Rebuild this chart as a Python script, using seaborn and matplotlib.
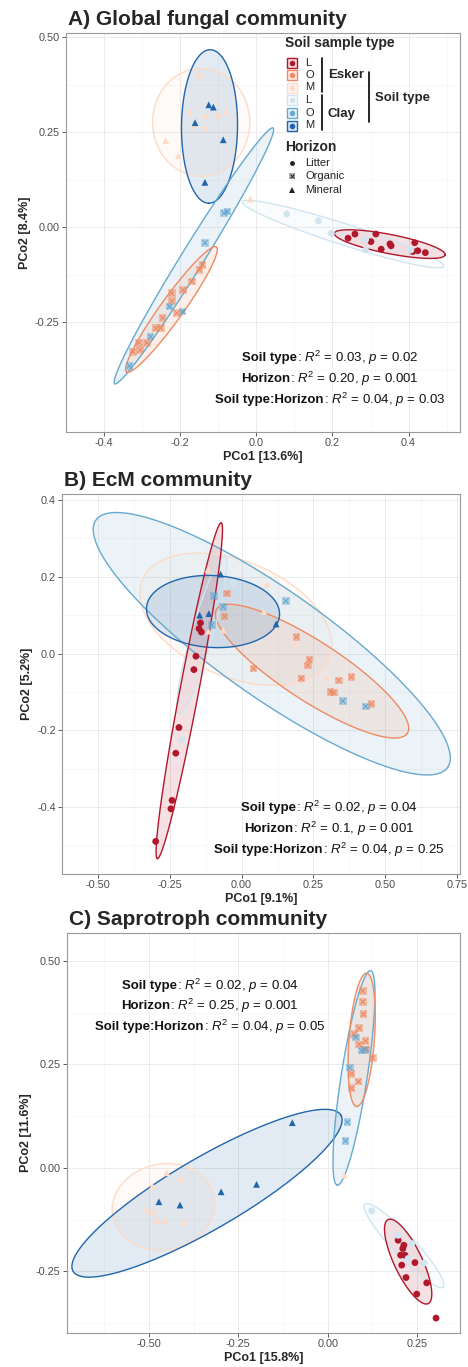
import numpy as np
import pandas as pd
import matplotlib
matplotlib.use("Agg")
import matplotlib.pyplot as plt
import seaborn as sns

sns.set_theme(style="white")
plt.rcParams['font.family'] = ['Liberation Sans', 'DejaVu Sans']
plt.rcParams['mathtext.fontset'] = 'custom'
plt.rcParams['mathtext.rm'] = 'Liberation Sans'
plt.rcParams['mathtext.it'] = 'Liberation Sans:italic'
plt.rcParams['mathtext.bf'] = 'Liberation Sans:bold'
plt.rcParams['axes.unicode_minus'] = False

# ---------------- data ----------------
groups = ["Esker L", "Esker O", "Esker M", "Clay L", "Clay O", "Clay M"]
horizon_of = {"L": "Litter", "O": "Organic", "M": "Mineral"}
palette = {"Esker L": "#B2182B", "Esker O": "#EF8A62", "Esker M": "#FDDBC7",
           "Clay L": "#D1E5F0", "Clay O": "#67A9CF", "Clay M": "#2166AC"}

# Panel A: Global fungal community
A_EL_x = [0.241, 0.259, 0.314, 0.301, 0.328, 0.351, 0.354, 0.416, 0.411, 0.424, 0.444]
A_EL_y = [-0.029, -0.018, -0.018, -0.038, -0.058, -0.044, -0.049, -0.041, -0.064, -0.062, -0.067]
A_EO_x = [-0.141, -0.149, -0.169, -0.193, -0.222, -0.222, -0.209, -0.246, -0.264, -0.251, -0.288, -0.308, -0.324, -0.305]
A_EO_y = [-0.099, -0.112, -0.143, -0.165, -0.174, -0.194, -0.226, -0.239, -0.266, -0.266, -0.304, -0.304, -0.328, -0.323]
A_EM_x = [-0.150, -0.175, -0.133, -0.103, -0.080, -0.163, -0.133, -0.238, -0.205, -0.016]
A_EM_y = [0.401, 0.304, 0.293, 0.296, 0.304, 0.271, 0.262, 0.228, 0.188, 0.074]
A_CL_x = [0.080, 0.163, 0.197, 0.287, 0.287, 0.406]
A_CL_y = [0.035, 0.017, -0.016, -0.060, -0.033, -0.060]
A_CO_x = [-0.085, -0.076, -0.135, -0.228, -0.194, -0.278, -0.333]
A_CO_y = [0.037, 0.041, -0.041, -0.209, -0.222, -0.288, -0.365]
A_CM_x = [-0.125, -0.113, -0.161, -0.087, -0.135]
A_CM_y = [0.322, 0.316, 0.275, 0.230, 0.118]
# ellipses: two ends of the long axis + width ratio
A_ell_group = ["Esker M", "Clay M", "Clay O", "Esker O", "Clay L", "Esker L"]
A_ell_x1 = [-0.145, -0.121, 0.044, -0.105, -0.037, 0.205]
A_ell_y1 = [0.418, 0.467, 0.261, -0.052, 0.067, -0.016]
A_ell_x2 = [-0.145, -0.125, -0.372, -0.341, 0.492, 0.496]
A_ell_y2 = [0.134, 0.063, -0.412, -0.381, -0.103, -0.073]
A_ell_ratio = [0.90, 0.365, 0.075, 0.148, 0.10, 0.17]

# Panel B: EcM community
B_EL_x = [-0.143, -0.148, -0.140, -0.159, -0.166, -0.218, -0.229, -0.242, -0.246, -0.299]
B_EL_y = [0.080, 0.065, 0.056, -0.007, -0.042, -0.193, -0.260, -0.383, -0.405, -0.490]
B_EO_x = [-0.051, -0.059, 0.191, 0.236, 0.230, 0.041, 0.208, 0.338, 0.382, 0.310, 0.321, 0.452]
B_EO_y = [0.157, 0.097, 0.043, -0.016, -0.031, -0.039, -0.065, -0.070, -0.061, -0.100, -0.102, -0.131]
B_EM_x = [-0.117, 0.089, 0.077, -0.064, -0.115, 0.185, 0.293]
B_EM_y = [0.220, 0.181, 0.109, 0.061, 0.058, 0.027, -0.061]
B_CL_x = [-0.030, -0.207]
B_CL_y = [0.184, -0.225]
B_CO_x = [-0.096, -0.064, -0.104, 0.154, 0.352, 0.432]
B_CO_y = [0.150, 0.122, 0.074, 0.137, -0.124, -0.138]
B_CM_x = [-0.073, -0.146, -0.114, 0.120]
B_CM_y = [0.207, 0.100, 0.104, 0.077]
B_ell_group = ["Esker M", "Clay O", "Esker O", "Clay L", "Clay M", "Esker L"]
B_ell_x1 = [-0.345, -0.507, -0.087, -0.059, -0.331, -0.071]
B_ell_y1 = [0.192, 0.348, 0.116, 0.254, 0.119, 0.341]
B_ell_x2 = [0.305, 0.717, 0.577, -0.218, 0.132, -0.293]
B_ell_y2 = [-0.013, -0.297, -0.208, -0.158, 0.100, -0.535]
B_ell_ratio = [0.57, 0.25, 0.26, 0.13, 0.54, 0.055]

# Panel C: Saprotroph community
C_EL_x = [0.197, 0.213, 0.210, 0.204, 0.216, 0.207, 0.244, 0.219, 0.277, 0.249, 0.303]
C_EL_y = [-0.175, -0.187, -0.195, -0.211, -0.211, -0.235, -0.229, -0.265, -0.278, -0.305, -0.363]
C_EO_x = [0.098, 0.098, 0.100, 0.088, 0.074, 0.088, 0.106, 0.109, 0.126, 0.067, 0.086, 0.067]
C_EO_y = [0.427, 0.401, 0.371, 0.337, 0.323, 0.298, 0.306, 0.286, 0.265, 0.227, 0.208, 0.192]
C_EM_x = [-0.450, -0.410, -0.490, -0.506, -0.488, -0.478, -0.457, -0.399, 0.046]
C_EM_y = [-0.012, -0.026, -0.044, -0.100, -0.106, -0.126, -0.128, -0.131, -0.018]
C_CL_x = [0.123, 0.197, 0.235, 0.225, 0.270]
C_CL_y = [-0.104, -0.163, -0.183, -0.219, -0.230]
C_CO_x = [0.079, 0.095, 0.104, 0.062, 0.055, 0.050]
C_CO_y = [0.315, 0.283, 0.285, 0.242, 0.110, 0.065]
C_CM_x = [-0.099, -0.199, -0.298, -0.472, -0.413]
C_CM_y = [0.109, -0.040, -0.058, -0.082, -0.090]
C_ell_group = ["Esker M", "Clay M", "Clay O", "Esker O", "Clay L", "Esker L"]
C_ell_x1 = [-0.601, -0.712, 0.120, 0.109, 0.104, 0.169]
C_ell_y1 = [-0.119, -0.250, 0.476, 0.470, -0.088, -0.125]
C_ell_x2 = [-0.317, 0.037, 0.027, 0.081, 0.323, 0.281]
C_ell_y2 = [-0.070, 0.127, -0.042, 0.148, -0.288, -0.328]
C_ell_ratio = [0.83, 0.23, 0.12, 0.19, 0.19, 0.30]

titles = ["A) Global fungal community", "B) EcM community", "C) Saprotroph community"]
xlabels = ["PCo1 [13.6%]", "PCo1 [9.1%]", "PCo1 [15.8%]"]
ylabels = ["PCo2 [8.4%]", "PCo2 [5.2%]", "PCo2 [11.6%]"]
A_xticks = [-0.4, -0.2, 0.0, 0.2, 0.4]
A_yticks = [-0.25, 0.0, 0.25, 0.50]
B_xticks = [-0.50, -0.25, 0.0, 0.25, 0.50, 0.75]
B_yticks = [-0.4, -0.2, 0.0, 0.2, 0.4]
C_xticks = [-0.50, -0.25, 0.0, 0.25]
C_yticks = [-0.25, 0.0, 0.25, 0.50]
stats = [
    [("Soil type", "0.03", "0.02"), ("Horizon", "0.20", "0.001"), ("Soil type:Horizon", "0.04", "0.03")],
    [("Soil type", "0.02", "0.04"), ("Horizon", "0.1", "0.001"), ("Soil type:Horizon", "0.04", "0.25")],
    [("Soil type", "0.02", "0.04"), ("Horizon", "0.25", "0.001"), ("Soil type:Horizon", "0.04", "0.05")],
]


def make_df(d):
    rows = []
    for g, key in zip(groups, ["EL", "EO", "EM", "CL", "CO", "CM"]):
        for x, y in zip(d[key + "_x"], d[key + "_y"]):
            rows.append((x, y, g, horizon_of[g[-1]]))
    return pd.DataFrame(rows, columns=["PCo1", "PCo2", "group", "Horizon"])


panels = []
for P in ["A", "B", "C"]:
    g = globals()
    d = {k: g[P + "_" + k] for k in
         ["EL_x", "EL_y", "EO_x", "EO_y", "EM_x", "EM_y", "CL_x", "CL_y", "CO_x", "CO_y", "CM_x", "CM_y"]}
    ell = pd.DataFrame({"group": g[P + "_ell_group"], "x1": g[P + "_ell_x1"], "y1": g[P + "_ell_y1"],
                        "x2": g[P + "_ell_x2"], "y2": g[P + "_ell_y2"], "ratio": g[P + "_ell_ratio"]})
    panels.append((make_df(d), ell))

# ---------------- layout (pixels) ----------------
W, H = 468, 1367
fig = plt.figure(figsize=(W / 100, H / 100), dpi=100)
fig.patch.set_facecolor("white")
renderer = fig.canvas.get_renderer()

boxes = [(66, 460, 33, 432), (62, 460, 494, 874), (67, 460, 933, 1333)]
lims = [((-0.405, 0.535), (-0.539, 0.511)),
        ((-0.567, 0.760), (-0.575, 0.416)),
        ((-0.729, 0.370), (-0.399, 0.567))]
ticks = [(A_xticks, A_yticks), (B_xticks, B_yticks), (C_xticks, C_yticks)]
tick_dec = [(1, 2), (2, 1), (2, 2)]

overlay = fig.add_axes([0, 0, 1, 1], zorder=10)
overlay.set_xlim(0, W)
overlay.set_ylim(H, 0)
overlay.axis("off")
overlay.patch.set_alpha(0)


def draw_ellipse(ax, r, color):
    T = ax.transData
    p1 = T.transform((r.x1, r.y1))
    p2 = T.transform((r.x2, r.y2))
    c = (p1 + p2) / 2
    u = (p2 - p1) / 2
    v = np.array([-u[1], u[0]]) * r.ratio
    t = np.linspace(0, 2 * np.pi, 240)
    pts = c + np.outer(np.cos(t), u) + np.outer(np.sin(t), v)
    dat = T.inverted().transform(pts)
    ax.fill(dat[:, 0], dat[:, 1], color=color, alpha=0.13, lw=0, zorder=2)
    ax.plot(dat[:, 0], dat[:, 1], color=color, lw=1.0, zorder=4)


def seg_text(cx, y, parts, fs):
    objs = [overlay.text(0, y, s, fontsize=fs, fontweight=w, ha="left", va="center", color="#111111")
            for s, w in parts]
    widths = [t.get_window_extent(renderer).width for t in objs]
    x = cx - sum(widths) / 2
    for t, wd in zip(objs, widths):
        t.set_x(x)
        x += wd


for i, ((df, ell), (L, R, T, B)) in enumerate(zip(panels, boxes)):
    ax = fig.add_axes([L / W, 1 - B / H, (R - L) / W, (B - T) / H])
    ax.set_facecolor("white")
    (x0, x1), (y0, y1) = lims[i]
    ax.set_xlim(x0, x1)
    ax.set_ylim(y0, y1)
    xt, yt = ticks[i]
    ax.set_xticks(xt)
    ax.set_yticks(yt)
    ax.set_xticklabels([f"{v:.{tick_dec[i][0]}f}" for v in xt])
    ax.set_yticklabels([f"{v:.{tick_dec[i][1]}f}" for v in yt])
    dx = xt[1] - xt[0]
    dy = yt[1] - yt[0]
    ax.set_xticks(np.arange(xt[0] - dx / 2, x1, dx), minor=True)
    ax.set_yticks(np.arange(yt[0] - dy / 2, y1, dy), minor=True)
    ax.grid(which="major", color="#EBEBEB", lw=0.7, zorder=0)
    ax.grid(which="minor", color="#F3F3F3", lw=0.45, zorder=0)
    ax.set_axisbelow(True)
    for s in ax.spines.values():
        s.set_color("#9A9A9A")
        s.set_linewidth(0.8)
    ax.tick_params(which="major", length=3, width=0.6, color="#444444", labelsize=7.8,
                   labelcolor="#4D4D4D", pad=1.5, bottom=True, left=True)
    ax.tick_params(which="minor", length=0)

    for _, r in ell.iterrows():
        draw_ellipse(ax, r, palette[r.group])

    lo = df[df.Horizon != "Organic"]
    sns.scatterplot(data=lo, x="PCo1", y="PCo2", hue="group", style="Horizon",
                    markers={"Litter": "o", "Mineral": "^"}, palette=palette,
                    s=24, linewidth=0, legend=False, ax=ax, zorder=5)
    org = df[df.Horizon == "Organic"]
    sns.scatterplot(data=org, x="PCo1", y="PCo2", hue="group", marker="s", palette=palette,
                    s=30, linewidth=0, alpha=0.45, legend=False, ax=ax, zorder=5)
    sns.scatterplot(data=org, x="PCo1", y="PCo2", hue="group", marker="x", palette=palette,
                    s=14, linewidth=0.8, legend=False, ax=ax, zorder=6)

    ax.set_xlabel(xlabels[i], fontsize=9, fontweight="bold", labelpad=2)
    ax.set_ylabel(ylabels[i], fontsize=9, fontweight="bold", labelpad=3)

    overlay.text(L + 2, T - 8, titles[i], fontsize=15, fontweight="bold", ha="left", va="baseline")

# stats annotations
ann_pos = [(330, [358, 379, 400]), (329, [808, 829, 850]), (210, [986, 1006, 1027])]
for (cx, ys), st in zip(ann_pos, stats):
    for y, (name, r2, p) in zip(ys, st):
        seg_text(cx, y, [(name, "bold"), (f": $R^2$ = {r2}, $p$ = {p}", "normal")], 9.5)

# ---------------- legend (panel A) ----------------
overlay.text(285, 43.5, "Soil sample type", fontsize=10, fontweight="bold", va="center")
row_y = [62.5, 75.0, 87.5, 100.0, 112.5, 125.5]
for g, y in zip(groups, row_y):
    col = palette[g]
    overlay.add_patch(plt.Rectangle((287, y - 5), 10, 10, facecolor=col, alpha=0.15, lw=0))
    overlay.add_patch(plt.Rectangle((287, y - 5), 10, 10, facecolor="none", edgecolor=col, lw=1.0))
    overlay.plot([292], [y], marker="o", ms=4, color=col, mew=0)
    overlay.text(305, y, g[-1], fontsize=8, va="center", color="#222222")
overlay.plot([322, 322], [57.5, 92], color="black", lw=1.2)
overlay.plot([322, 322], [95, 130], color="black", lw=1.2)
overlay.plot([369, 369], [71.5, 121.5], color="black", lw=1.2)
overlay.text(328, 75, "Esker", fontsize=9.5, fontweight="bold", va="center")
overlay.text(328, 114, "Clay", fontsize=9.5, fontweight="bold", va="center")
overlay.text(375, 97.5, "Soil type", fontsize=9.5, fontweight="bold", va="center")

overlay.text(285, 147, "Horizon", fontsize=10, fontweight="bold", va="center")
hz_y = [162.7, 176.2, 189.7]
hz_lab = ["Litter", "Organic", "Mineral"]
overlay.plot([291.5], [hz_y[0]], marker="o", ms=3.5, color="#222222", mew=0)
overlay.plot([291.5], [hz_y[1]], marker="s", ms=4.5, color="#222222", alpha=0.35, mew=0)
overlay.plot([291.5], [hz_y[1]], marker="x", ms=3.5, color="#222222", mew=0.7)
overlay.plot([291.5], [hz_y[2]], marker="^", ms=4, color="#222222", mew=0)
for y, t in zip(hz_y, hz_lab):
    overlay.text(305, y, t, fontsize=8, va="center", color="#222222")

fig.savefig("out.png", dpi=100, facecolor="white")
